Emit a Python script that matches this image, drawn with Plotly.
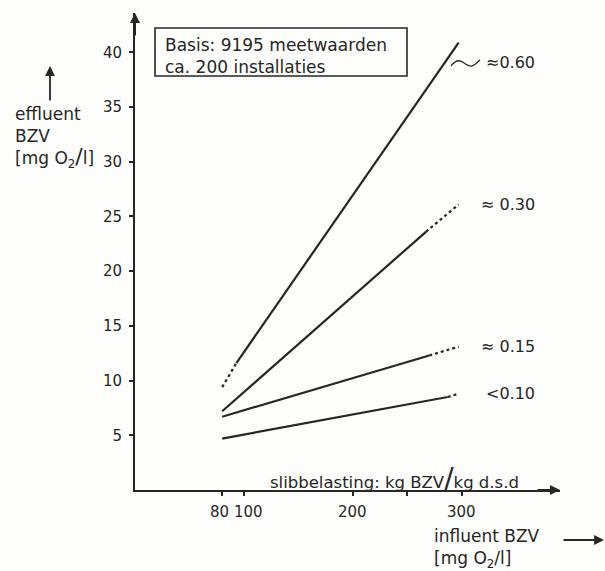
import plotly.graph_objects as go

# --- data -------------------------------------------------------------
series_labels = ["≈0.60", "≈ 0.30", "≈ 0.15", "<0.10"]
x_start = [80, 80, 80, 80]
y_start = [9.4, 7.2, 6.7, 4.7]
x_break = [93, 267, 270, 287]
y_break = [11.6, 23.6, 12.3, 8.5]
x_end = [297, 297, 297, 297]
y_end = [40.9, 26.1, 13.1, 8.8]
dotted_part = ["start", "end", "end", "end"]   # which piece of the line is uncertain
label_y = [39.1, 26.1, 13.1, 8.8]

x_tickvals = [80, 100, 200, 250, 300]
x_ticktext = ["80", "100", "200", "", "300"]
y_tickvals = [5, 10, 15, 20, 25, 30, 35, 40]

# --- page geometry ------------------------------------------------------
W, H = 605, 571
ML, MR, MT, MB = 135, 45, 13, 81
PW, PH = W - ML - MR, H - MT - MB
INK = "#262626"
FONT = "DejaVu Sans"


def paper(xp, yp):
    """page pixel position -> paper coordinates"""
    return (xp - ML) / PW, (H - MB - yp) / PH


fig = go.Figure()

for i in range(len(series_labels)):
    first = ([x_start[i], x_break[i]], [y_start[i], y_break[i]])
    second = ([x_break[i], x_end[i]], [y_break[i], y_end[i]])
    if dotted_part[i] == "start":
        dotted, solid = first, second
    else:
        solid, dotted = first, second
    fig.add_trace(go.Scatter(x=solid[0], y=solid[1], mode="lines",
                             line=dict(color=INK, width=2.2), showlegend=False,
                             hoverinfo="skip"))
    fig.add_trace(go.Scatter(x=dotted[0], y=dotted[1], mode="lines",
                             line=dict(color=INK, width=2.2, dash="dot"),
                             showlegend=False, hoverinfo="skip"))
    fig.add_annotation(x=369, y=label_y[i], xref="x", yref="y",
                       text=series_labels[i], showarrow=False,
                       xanchor="right", yanchor="middle",
                       font=dict(family=FONT, size=16, color=INK))

# wavy leader from the steepest line to its label
fig.add_shape(type="path", xref="x", yref="y",
              path="M 290,38.76 Q 295.5,39.5 301,39.1 T 309,38.75 T 316.5,39.3",
              line=dict(color=INK, width=1.3))

annotations = []

# x tick labels (hand-lettered: 80 and 100 are spread apart a little)
label_nudge = {80: -3, 100: 5}
_, ly = paper(0, 512)
for v, t in zip(x_tickvals, x_ticktext):
    if t:
        annotations.append(dict(x=v, y=ly, xref="x", yref="paper", text=t,
                                xshift=label_nudge.get(v, 0), showarrow=False,
                                xanchor="center", yanchor="middle",
                                font=dict(family=FONT, size=15, color=INK)))

# information box
x0, y0 = paper(155, 28)
x1, y1 = paper(407, 76)
fig.add_shape(type="rect", xref="paper", yref="paper", x0=x0, y0=y0, x1=x1, y1=y1,
              line=dict(color=INK, width=1.6))
bx, by = paper(163, 56)
annotations.append(dict(x=bx, y=by, xref="paper", yref="paper",
                        text="Basis: 9195 meetwaarden<br>ca. 200 installaties",
                        align="left", showarrow=False, xanchor="left", yanchor="middle",
                        font=dict(family=FONT, size=17, color=INK)))

# y axis title
ex, ey = paper(13, 137)
annotations.append(dict(x=ex, y=ey, xref="paper", yref="paper",
                        text="effluent<br>BZV<br>[mg O<sub>2</sub><span style='font-size:22px'>/</span>l]",
                        align="left", showarrow=False, xanchor="left", yanchor="middle",
                        font=dict(family=FONT, size=17, color=INK)))
tx, ty = paper(50, 66)
annotations.append(dict(x=tx, y=ty, xref="paper", yref="paper", text="",
                        showarrow=True, arrowhead=2, arrowsize=1.1, arrowwidth=1.8,
                        arrowcolor=INK, ax=0, ay=36))

# sludge-load label above the x axis
sx, sy = paper(268, 478)
annotations.append(dict(x=sx, y=sy, xref="paper", yref="paper",
                        text="slibbelasting: kg BZV<span style='font-size:28px'>/</span>kg d.s.d",
                        showarrow=False, xanchor="left", yanchor="middle",
                        font=dict(family=FONT, size=16.5, color=INK)))

# x axis title
ix, iy = paper(432, 548)
annotations.append(dict(x=ix, y=iy, xref="paper", yref="paper",
                        text="influent BZV<br>[mg O<sub>2</sub>/l]",
                        align="left", showarrow=False, xanchor="left", yanchor="middle",
                        font=dict(family=FONT, size=17, color=INK)))
tx, ty = paper(604, 540)
annotations.append(dict(x=tx, y=ty, xref="paper", yref="paper", text="",
                        showarrow=True, arrowhead=2, arrowsize=1.1, arrowwidth=1.8,
                        arrowcolor=INK, ax=-42, ay=0))

# arrowheads on the axes
annotations.append(dict(x=0, y=1, xref="paper", yref="paper", text="",
                        showarrow=True, arrowhead=2, arrowsize=1.0, arrowwidth=2,
                        arrowcolor=INK, ax=0, ay=24))
annotations.append(dict(x=1, y=0, xref="paper", yref="paper", text="",
                        showarrow=True, arrowhead=2, arrowsize=1.0, arrowwidth=2,
                        arrowcolor=INK, ax=-24, ay=0))

for a in annotations:
    fig.add_annotation(**a)

axis_common = dict(showline=True, linecolor=INK, linewidth=2, showgrid=False,
                   zeroline=False, ticks="outside", ticklen=4, tickwidth=2,
                   tickcolor=INK, tickfont=dict(family=FONT, size=15, color=INK))

fig.update_layout(
    width=W, height=H, autosize=False,
    margin=dict(l=ML, r=MR, t=MT, b=MB),
    paper_bgcolor="#fdfdfb", plot_bgcolor="#fdfdfb",
    xaxis=dict(range=[0, 390], tickvals=x_tickvals, showticklabels=False,
               **axis_common),
    yaxis=dict(range=[0, 43.6], tickvals=y_tickvals, ticklabelstandoff=4,
               **axis_common),
)

fig.write_html("out.html")
